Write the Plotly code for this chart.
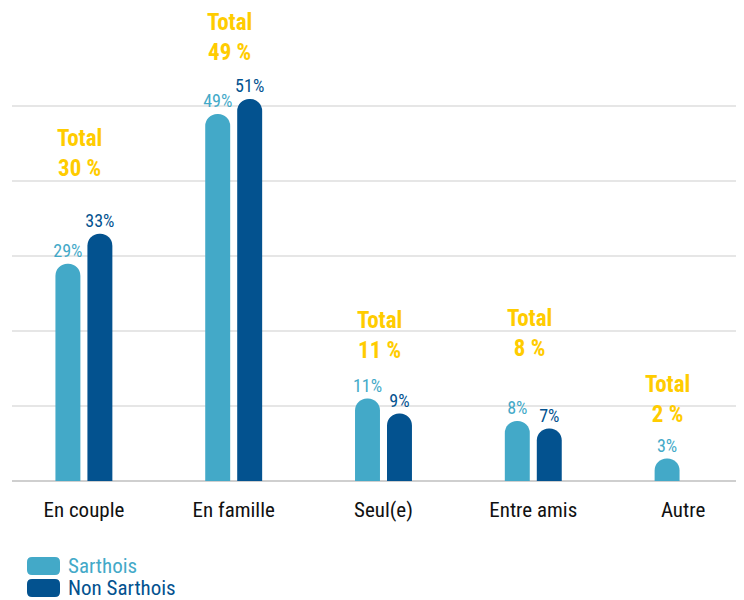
import plotly.graph_objects as go

categories = ["En couple", "En famille", "Seul(e)", "Entre amis", "Autre"]
sarthois = [29, 49, 11, 8, 3]
non_sarthois = [33, 51, 9, 7, None]
totals = [30, 49, 11, 8, 2]
series_names = ["Sarthois", "Non Sarthois"]

LIGHT = "#43A9C8"
DARK = "#03528F"
YELLOW = "#FFCC00"
FONT = "Roboto Condensed, DejaVu Sans Condensed, Liberation Sans Narrow, Roboto, sans-serif"

OFF = 8  # default page body margin
W, H = 744 - OFF, 600 - OFF
L, R, T = 12 - OFF, 4, 54 - OFF
B = H - (481 - OFF)
PW, PH = W - L - R, H - T - B


def px_to_paper_x(px):
    return (px - OFF - L) / PW


def px_to_paper_y(py):
    return (H - B - (py - OFF)) / PH


def labels(vals):
    return [f"{v}%" if v is not None else "" for v in vals]


fig = go.Figure()
for name, vals, col in [(series_names[0], sarthois, LIGHT), (series_names[1], non_sarthois, DARK)]:
    fig.add_trace(go.Bar(
        x=categories, y=vals, name=name, marker=dict(color=col, line=dict(width=0)),
        text=labels(vals), textposition="outside", cliponaxis=False, constraintext="none",
        textfont=dict(color=col, size=18, family=FONT), showlegend=False,
        hoverinfo="skip",
    ))

# "Total" annotations above each group (extra lift per group, in pixels)
lift = {"En couple": 57, "En famille": 38, "Seul(e)": 40, "Entre amis": 64, "Autre": 36}
for cat, s, n, t in zip(categories, sarthois, non_sarthois, totals):
    present = [v for v in (s, n) if v is not None]
    xshift = -4 if n is not None else -16
    fig.add_annotation(
        x=cat, y=max(present), xref="x", yref="y",
        text=f"<b>Total<br>{t} %</b>", showarrow=False,
        yanchor="bottom", yshift=lift[cat] - 6, xshift=xshift, borderpad=0,
        font=dict(color=YELLOW, size=23, family=FONT), align="center",
    )

fig.update_layout(
    width=W, height=H,
    margin=dict(l=L, r=R, t=T, b=B),
    paper_bgcolor="white", plot_bgcolor="white",
    barmode="group", bargap=0.573, bargroupgap=0.22, barcornerradius=12,
    font=dict(family=FONT, color="#111111"),
    xaxis=dict(range=[-0.48, 4.38], showgrid=False, showline=False, automargin=False,
               tickfont=dict(size=21, color="#111111", family=FONT),
               ticks="", ticklabelstandoff=14, fixedrange=True),
    yaxis=dict(range=[0, 57], tickvals=[0, 10, 20, 30, 40, 50], showticklabels=False,
               automargin=False,
               gridcolor="#E6E6E6", gridwidth=1.5, zeroline=True,
               zerolinecolor="#CFCFCF", zerolinewidth=2, showline=False, fixedrange=True),
)

# custom legend: rounded swatches + coloured text
legend_items = [(series_names[0], LIGHT, 566), (series_names[1], DARK, 588)]
for name, col, ypix in legend_items:
    x0p, x1p, y0p, y1p, r = 27, 60, ypix - 9, ypix + 9, 5
    pts = [
        (x0p + r, y0p), (x1p - r, y0p), (x1p, y0p), (x1p, y0p + r), (x1p, y1p - r),
        (x1p, y1p), (x1p - r, y1p), (x0p + r, y1p), (x0p, y1p), (x0p, y1p - r),
        (x0p, y0p + r), (x0p, y0p), (x0p + r, y0p),
    ]
    P = [(px_to_paper_x(a), px_to_paper_y(b)) for a, b in pts]
    path = (f"M {P[0][0]},{P[0][1]} L {P[1][0]},{P[1][1]} Q {P[2][0]},{P[2][1]} {P[3][0]},{P[3][1]} "
            f"L {P[4][0]},{P[4][1]} Q {P[5][0]},{P[5][1]} {P[6][0]},{P[6][1]} "
            f"L {P[7][0]},{P[7][1]} Q {P[8][0]},{P[8][1]} {P[9][0]},{P[9][1]} "
            f"L {P[10][0]},{P[10][1]} Q {P[11][0]},{P[11][1]} {P[12][0]},{P[12][1]} Z")
    fig.add_shape(type="path", xref="paper", yref="paper", path=path,
                  fillcolor=col, line=dict(width=0), layer="above")
    fig.add_annotation(
        xref="paper", yref="paper", x=px_to_paper_x(67), y=px_to_paper_y(ypix),
        text=name, showarrow=False, xanchor="left", yanchor="middle", borderpad=0,
        font=dict(color=col, size=21, family=FONT),
    )

fig.write_html("out.html")
